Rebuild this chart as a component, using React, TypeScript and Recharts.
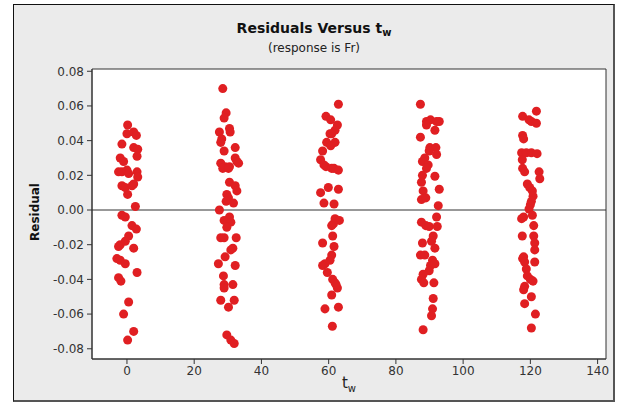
import React from 'react';
import { ScatterChart, Scatter, XAxis, YAxis, ZAxis, ReferenceLine, ReferenceArea } from 'recharts';

const tw0 = [0.2,0.0,2.0,2.8,-1.5,2.0,3.2,3.0,-2.0,-1.0,-2.5,-1.5,0.0,0.5,3.0,3.2,-1.5,-0.5,1.5,2.0,0.2,2.5,-1.5,-0.5,1.5,2.8,0.5,-0.5,-2.0,-2.5,2.0,-3.0,-2.0,-0.5,3.0,-2.5,-1.8,0.5,-1.0,2.0,0.2];
const res0 = [0.049,0.044,0.045,0.043,0.038,0.036,0.035,0.031,0.030,0.028,0.022,0.022,0.023,0.021,0.022,0.019,0.014,0.013,0.014,0.015,0.009,0.002,-0.003,-0.004,-0.009,-0.011,-0.015,-0.018,-0.020,-0.021,-0.022,-0.028,-0.029,-0.031,-0.036,-0.039,-0.041,-0.053,-0.060,-0.070,-0.075];

const tw30 = [28.5,29.5,28.9,27.5,30.5,30.7,28.2,27.9,28.9,32.2,27.9,29.2,30.5,32.2,32.7,33.2,28.5,30.2,30.5,32.2,32.7,29.7,30.2,29.5,31.7,27.5,30.5,28.9,30.9,29.7,27.9,28.9,32.5,31.5,30.9,29.2,27.2,32.2,28.7,28.9,31.5,28.9,27.9,31.9,30.2,29.7,30.9,31.9];
const res30 = [0.070,0.056,0.053,0.045,0.047,0.045,0.041,0.039,0.034,0.036,0.027,0.025,0.025,0.030,0.028,0.027,0.024,0.024,0.016,0.014,0.011,0.009,0.007,0.005,0.004,0.000,-0.004,-0.006,-0.007,-0.010,-0.016,-0.016,-0.016,-0.022,-0.023,-0.027,-0.031,-0.032,-0.038,-0.043,-0.043,-0.045,-0.052,-0.052,-0.056,-0.072,-0.075,-0.077];

const tw60 = [62.9,59.2,60.6,62.6,61.9,60.9,60.4,59.4,61.9,60.6,58.2,57.6,58.6,59.2,60.9,61.6,62.9,59.9,57.6,62.9,58.6,61.6,61.9,63.2,61.4,60.9,61.2,58.2,61.6,60.9,60.4,58.9,58.2,59.6,61.2,61.9,62.6,62.2,60.9,58.9,62.9,61.1];
const res60 = [0.061,0.054,0.052,0.049,0.046,0.044,0.044,0.039,0.039,0.037,0.034,0.029,0.026,0.025,0.024,0.024,0.023,0.013,0.010,0.012,0.004,0.0035,-0.005,-0.006,-0.008,-0.009,-0.015,-0.019,-0.021,-0.026,-0.029,-0.031,-0.032,-0.036,-0.040,-0.042,-0.045,-0.043,-0.049,-0.057,-0.056,-0.067];

const tw90 = [87.3,89.1,90.3,92.1,92.9,89.1,91.6,87.3,90.1,91.9,89.9,92.1,88.6,87.9,89.6,89.1,91.6,87.9,87.6,92.9,88.1,87.6,88.9,92.6,87.6,88.9,89.9,92.1,92.3,91.1,87.9,90.6,91.6,87.3,88.6,90.9,90.3,91.6,89.9,88.1,87.6,88.3,91.3,91.1,90.9,90.6,88.1];
const res90 = [0.061,0.051,0.052,0.051,0.051,0.049,0.046,0.042,0.036,0.036,0.034,0.032,0.030,0.028,0.026,0.024,0.0195,0.020,0.016,0.012,0.011,0.006,0.007,0.0025,-0.007,-0.009,-0.0095,-0.004,-0.0095,-0.015,-0.019,-0.018,-0.022,-0.026,-0.026,-0.029,-0.032,-0.031,-0.035,-0.037,-0.040,-0.042,-0.042,-0.051,-0.057,-0.061,-0.069];

const tw120 = [121.8,117.7,119.6,120.3,121.8,117.7,118.0,117.4,118.8,120.3,122.0,117.6,117.7,118.3,122.6,122.8,119.1,119.8,120.6,120.8,120.3,120.0,119.6,118.0,117.4,120.6,121.0,117.6,121.0,121.3,121.3,118.0,117.7,118.3,121.3,118.8,119.1,120.0,120.8,118.3,118.0,120.3,118.3,121.5,120.3];
const res120 = [0.057,0.054,0.052,0.051,0.050,0.043,0.041,0.033,0.033,0.033,0.0325,0.029,0.024,0.022,0.022,0.018,0.015,0.013,0.011,0.008,0.005,0.003,0.0006,-0.004,-0.005,-0.003,-0.009,-0.015,-0.015,-0.019,-0.023,-0.027,-0.028,-0.030,-0.030,-0.034,-0.038,-0.040,-0.041,-0.044,-0.046,-0.050,-0.054,-0.060,-0.068];

const xTicks = [0, 20, 40, 60, 80, 100, 120, 140];
const yTicks = [-0.08, -0.06, -0.04, -0.02, 0, 0.02, 0.04, 0.06, 0.08];
const xDomain: [number, number] = [-10.4, 142.5];
const yDomain: [number, number] = [-0.0859, 0.0813];

const groups: [number[], number[]][] = [[tw0, res0], [tw30, res30], [tw60, res60], [tw90, res90], [tw120, res120]];
const data = groups.flatMap(([t, r]) => t.map((v, i) => ({ tw: v, res: r[i] })));

const FONT = '"DejaVu Sans", Tahoma, sans-serif';

export default function App() {
  return (
    <div style={{ position: 'absolute', left: 0, top: 0, width: 620, height: 405, fontFamily: FONT }}>
      <div style={{ position: 'absolute', left: 13, top: 4, width: 602, height: 398, boxSizing: 'border-box', background: '#ebebeb', borderTop: '1px solid #111', borderLeft: '1px solid #111', borderRight: '2px solid #555', borderBottom: '2px solid #555' }} />
      <div style={{ position: 'absolute', left: 13, width: 602, top: 19, textAlign: 'center', fontSize: 14, fontWeight: 'bold', color: '#111', lineHeight: '18px' }}>
        Residuals Versus t<sub style={{ fontSize: 10, verticalAlign: -3 }}>w</sub>
      </div>
      <div style={{ position: 'absolute', left: 13, width: 602, top: 41, textAlign: 'center', fontSize: 12, color: '#222', lineHeight: '15px' }}>
        (response is Fr)
      </div>
      <div style={{ position: 'absolute', left: 35, top: 212, transform: 'translate(-50%, -50%) rotate(-90deg)', fontSize: 12, fontWeight: 'bold', color: '#111', whiteSpace: 'nowrap' }}>
        Residual
      </div>
      <div style={{ position: 'absolute', left: 299, width: 100, top: 374, textAlign: 'center', fontSize: 15, color: '#222', lineHeight: '18px' }}>
        t<sub style={{ fontSize: 10, verticalAlign: -4 }}>w</sub>
      </div>
      <div style={{ position: 'absolute', left: 0, top: 0 }}>
        <ScatterChart width={620} height={405} margin={{ top: 69, right: 14, bottom: 6, left: 32 }}>
          <ReferenceArea x1={xDomain[0]} x2={xDomain[1]} y1={yDomain[0]} y2={yDomain[1]} fill="#ffffff" fillOpacity={1} stroke="#333" strokeWidth={1} />
          <XAxis type="number" dataKey="tw" domain={xDomain} ticks={xTicks} allowDataOverflow height={40}
            axisLine={{ stroke: '#333' }} tickLine={{ stroke: '#333' }} tickSize={5} tickMargin={2}
            tick={{ fill: '#333', fontSize: 12, fontFamily: FONT }} interval={0} />
          <YAxis type="number" dataKey="res" domain={yDomain} ticks={yTicks} allowDataOverflow width={60}
            axisLine={{ stroke: '#333' }} tickLine={{ stroke: '#333' }} tickSize={5} tickMargin={3}
            tick={{ fill: '#333', fontSize: 12, fontFamily: FONT }} interval={0}
            tickFormatter={(v: number) => v.toFixed(2)} />
          <ZAxis range={[50, 50]} />
          <ReferenceLine y={0} stroke="#333" strokeWidth={1} />
          <Scatter data={data} fill="#e01f22" isAnimationActive={false} />
        </ScatterChart>
      </div>
    </div>
  );
}
